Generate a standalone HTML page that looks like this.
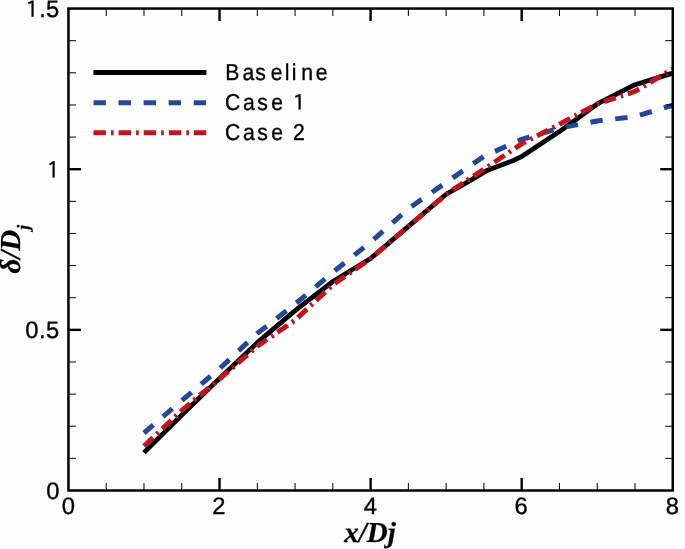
<!DOCTYPE html>
<html><head><meta charset="utf-8"><style>
html,body{margin:0;padding:0;background:#fdfdfd;}
body{width:685px;height:549px;overflow:hidden;}
svg{display:block;will-change:transform;}
text{font-family:"Liberation Sans",sans-serif;fill:#000;text-rendering:geometricPrecision;stroke:#000;stroke-width:0.35px;}
.ax{font-family:"Liberation Serif",serif;font-size:29px;font-weight:bold;font-style:italic;fill:#000;stroke-width:0.25px;}
</style></head><body>
<svg width="685" height="549" viewBox="0 0 685 549">
<rect x="0" y="0" width="685" height="549" fill="#fdfdfd"/>
<g fill="none" stroke-linejoin="round">
<path d="M143.99,452.59 L181.76,414.99 L219.53,378.37 L257.30,342.70 L295.07,310.57 L332.84,281.49 L370.61,258.52 L408.38,226.39 L446.15,194.26 L468.81,181.41 L487.70,170.16 L514.14,160.20 L522.45,156.03 L559.46,131.61 L597.23,103.98 L635.00,84.70 L672.77,73.13" stroke="#000" stroke-width="4.8"/>
<path d="M143.99,432.99 L181.76,400.54 L219.53,368.73 L257.30,333.38 L295.07,304.15 L332.84,272.34 L370.61,242.14 L408.38,208.72 L446.15,182.37 L483.92,156.35 L521.69,139.32 L559.46,128.07 L597.23,121.00 L635.00,116.51 L672.77,105.26" stroke="#24479c" stroke-width="5" stroke-dasharray="12.4 12.65"/>
<path d="M143.99,446.16 L181.76,410.50 L219.53,379.01 L257.30,346.24 L295.07,320.21 L332.84,284.87 L370.61,258.52 L408.38,226.39 L446.15,194.26 L483.92,169.20 L521.69,143.82 L559.46,124.22 L597.23,103.98 L635.00,91.45 L672.77,68.95" stroke="#c3141e" stroke-width="5" stroke-dasharray="12.4 5.1 2.6 5.0"/>
</g>
<rect x="68.45" y="8.549999999999955" width="604.32" height="481.95" fill="none" stroke="#000" stroke-width="2.5"/>
<line x1="106.22" y1="490.5" x2="106.22" y2="483.00" stroke="#000" stroke-width="1.0"/><line x1="106.22" y1="8.549999999999955" x2="106.22" y2="16.05" stroke="#000" stroke-width="1.0"/><line x1="143.99" y1="490.5" x2="143.99" y2="483.00" stroke="#000" stroke-width="1.0"/><line x1="143.99" y1="8.549999999999955" x2="143.99" y2="16.05" stroke="#000" stroke-width="1.0"/><line x1="181.76" y1="490.5" x2="181.76" y2="483.00" stroke="#000" stroke-width="1.0"/><line x1="181.76" y1="8.549999999999955" x2="181.76" y2="16.05" stroke="#000" stroke-width="1.0"/><line x1="219.53" y1="490.5" x2="219.53" y2="478.00" stroke="#000" stroke-width="2.4"/><line x1="219.53" y1="8.549999999999955" x2="219.53" y2="21.05" stroke="#000" stroke-width="2.4"/><line x1="257.30" y1="490.5" x2="257.30" y2="483.00" stroke="#000" stroke-width="1.0"/><line x1="257.30" y1="8.549999999999955" x2="257.30" y2="16.05" stroke="#000" stroke-width="1.0"/><line x1="295.07" y1="490.5" x2="295.07" y2="483.00" stroke="#000" stroke-width="1.0"/><line x1="295.07" y1="8.549999999999955" x2="295.07" y2="16.05" stroke="#000" stroke-width="1.0"/><line x1="332.84" y1="490.5" x2="332.84" y2="483.00" stroke="#000" stroke-width="1.0"/><line x1="332.84" y1="8.549999999999955" x2="332.84" y2="16.05" stroke="#000" stroke-width="1.0"/><line x1="370.61" y1="490.5" x2="370.61" y2="478.00" stroke="#000" stroke-width="2.4"/><line x1="370.61" y1="8.549999999999955" x2="370.61" y2="21.05" stroke="#000" stroke-width="2.4"/><line x1="408.38" y1="490.5" x2="408.38" y2="483.00" stroke="#000" stroke-width="1.0"/><line x1="408.38" y1="8.549999999999955" x2="408.38" y2="16.05" stroke="#000" stroke-width="1.0"/><line x1="446.15" y1="490.5" x2="446.15" y2="483.00" stroke="#000" stroke-width="1.0"/><line x1="446.15" y1="8.549999999999955" x2="446.15" y2="16.05" stroke="#000" stroke-width="1.0"/><line x1="483.92" y1="490.5" x2="483.92" y2="483.00" stroke="#000" stroke-width="1.0"/><line x1="483.92" y1="8.549999999999955" x2="483.92" y2="16.05" stroke="#000" stroke-width="1.0"/><line x1="521.69" y1="490.5" x2="521.69" y2="478.00" stroke="#000" stroke-width="2.4"/><line x1="521.69" y1="8.549999999999955" x2="521.69" y2="21.05" stroke="#000" stroke-width="2.4"/><line x1="559.46" y1="490.5" x2="559.46" y2="483.00" stroke="#000" stroke-width="1.0"/><line x1="559.46" y1="8.549999999999955" x2="559.46" y2="16.05" stroke="#000" stroke-width="1.0"/><line x1="597.23" y1="490.5" x2="597.23" y2="483.00" stroke="#000" stroke-width="1.0"/><line x1="597.23" y1="8.549999999999955" x2="597.23" y2="16.05" stroke="#000" stroke-width="1.0"/><line x1="635.00" y1="490.5" x2="635.00" y2="483.00" stroke="#000" stroke-width="1.0"/><line x1="635.00" y1="8.549999999999955" x2="635.00" y2="16.05" stroke="#000" stroke-width="1.0"/><line x1="68.45" y1="458.37" x2="75.95" y2="458.37" stroke="#000" stroke-width="1.0"/><line x1="672.7700000000001" y1="458.37" x2="665.27" y2="458.37" stroke="#000" stroke-width="1.0"/><line x1="68.45" y1="426.24" x2="75.95" y2="426.24" stroke="#000" stroke-width="1.0"/><line x1="672.7700000000001" y1="426.24" x2="665.27" y2="426.24" stroke="#000" stroke-width="1.0"/><line x1="68.45" y1="394.11" x2="75.95" y2="394.11" stroke="#000" stroke-width="1.0"/><line x1="672.7700000000001" y1="394.11" x2="665.27" y2="394.11" stroke="#000" stroke-width="1.0"/><line x1="68.45" y1="361.98" x2="75.95" y2="361.98" stroke="#000" stroke-width="1.0"/><line x1="672.7700000000001" y1="361.98" x2="665.27" y2="361.98" stroke="#000" stroke-width="1.0"/><line x1="68.45" y1="329.85" x2="80.95" y2="329.85" stroke="#000" stroke-width="2.4"/><line x1="672.7700000000001" y1="329.85" x2="660.27" y2="329.85" stroke="#000" stroke-width="2.4"/><line x1="68.45" y1="297.72" x2="75.95" y2="297.72" stroke="#000" stroke-width="1.0"/><line x1="672.7700000000001" y1="297.72" x2="665.27" y2="297.72" stroke="#000" stroke-width="1.0"/><line x1="68.45" y1="265.59" x2="75.95" y2="265.59" stroke="#000" stroke-width="1.0"/><line x1="672.7700000000001" y1="265.59" x2="665.27" y2="265.59" stroke="#000" stroke-width="1.0"/><line x1="68.45" y1="233.46" x2="75.95" y2="233.46" stroke="#000" stroke-width="1.0"/><line x1="672.7700000000001" y1="233.46" x2="665.27" y2="233.46" stroke="#000" stroke-width="1.0"/><line x1="68.45" y1="201.33" x2="75.95" y2="201.33" stroke="#000" stroke-width="1.0"/><line x1="672.7700000000001" y1="201.33" x2="665.27" y2="201.33" stroke="#000" stroke-width="1.0"/><line x1="68.45" y1="169.20" x2="80.95" y2="169.20" stroke="#000" stroke-width="2.4"/><line x1="672.7700000000001" y1="169.20" x2="660.27" y2="169.20" stroke="#000" stroke-width="2.4"/><line x1="68.45" y1="137.07" x2="75.95" y2="137.07" stroke="#000" stroke-width="1.0"/><line x1="672.7700000000001" y1="137.07" x2="665.27" y2="137.07" stroke="#000" stroke-width="1.0"/><line x1="68.45" y1="104.94" x2="75.95" y2="104.94" stroke="#000" stroke-width="1.0"/><line x1="672.7700000000001" y1="104.94" x2="665.27" y2="104.94" stroke="#000" stroke-width="1.0"/><line x1="68.45" y1="72.81" x2="75.95" y2="72.81" stroke="#000" stroke-width="1.0"/><line x1="672.7700000000001" y1="72.81" x2="665.27" y2="72.81" stroke="#000" stroke-width="1.0"/><line x1="68.45" y1="40.68" x2="75.95" y2="40.68" stroke="#000" stroke-width="1.0"/><line x1="672.7700000000001" y1="40.68" x2="665.27" y2="40.68" stroke="#000" stroke-width="1.0"/>
<text transform="translate(68.40,514.10) scale(1.0,1)" x="-6.62" y="0" font-size="23.8">0</text><text transform="translate(218.95,514.10) scale(1.0,1)" x="-6.62" y="0" font-size="23.8">2</text><text transform="translate(370.35,514.10) scale(1.0,1)" x="-6.54" y="0" font-size="23.8">4</text><text transform="translate(521.30,514.10) scale(1.0,1)" x="-6.70" y="0" font-size="23.8">6</text><text transform="translate(672.35,514.10) scale(1.0,1)" x="-6.62" y="0" font-size="23.8">8</text><path d="M31.45,0.60 L33.65,0.60 L33.65,16.80 L31.45,16.80 Z" fill="#000"/><line x1="32.77" y1="1.50" x2="28.20" y2="3.40" stroke="#000" stroke-width="2.0"/><text transform="translate(42.50,17.15) scale(1.0,1)" x="-3.31" y="0" font-size="23.8">.</text><text transform="translate(52.60,17.15) scale(1.0,1)" x="-6.59" y="0" font-size="23.8">5</text><path d="M52.50,161.10 L54.70,161.10 L54.70,177.60 L52.50,177.60 Z" fill="#000"/><line x1="53.82" y1="162.00" x2="49.50" y2="164.50" stroke="#000" stroke-width="2.0"/><text transform="translate(31.90,338.45) scale(1.0,1)" x="-6.62" y="0" font-size="23.8">0</text><text transform="translate(42.25,338.45) scale(1.0,1)" x="-3.31" y="0" font-size="23.8">.</text><text transform="translate(52.65,338.45) scale(1.0,1)" x="-6.59" y="0" font-size="23.8">5</text><text transform="translate(52.95,499.10) scale(1.0,1)" x="-6.62" y="0" font-size="23.8">0</text>
<line x1="93.4" y1="72.55" x2="206.4" y2="72.55" stroke="#000" stroke-width="4.9"/>
<line x1="93.5" y1="102.75" x2="206.4" y2="102.75" stroke="#24479c" stroke-width="5" stroke-dasharray="12.4 12.65"/>
<line x1="93.5" y1="132.8" x2="206.4" y2="132.8" stroke="#c3141e" stroke-width="5" stroke-dasharray="12.4 5.1 2.6 5.0"/>
<text transform="translate(232.50,80.10) scale(0.92,1)" x="-8.01" y="0" font-size="23.0">B</text><text transform="translate(248.75,80.10) scale(0.92,1)" x="-6.88" y="0" font-size="23.0">a</text><text transform="translate(260.35,80.10) scale(0.92,1)" x="-5.65" y="0" font-size="23.0">s</text><text transform="translate(276.60,80.10) scale(0.92,1)" x="-6.37" y="0" font-size="23.0">e</text><text transform="translate(287.05,80.10) scale(0.92,1)" x="-2.56" y="0" font-size="23.0">l</text><text transform="translate(294.05,80.10) scale(0.92,1)" x="-2.55" y="0" font-size="23.0">i</text><text transform="translate(307.15,80.10) scale(0.92,1)" x="-6.41" y="0" font-size="23.0">n</text><text transform="translate(321.50,80.10) scale(0.92,1)" x="-6.37" y="0" font-size="23.0">e</text><text transform="translate(232.70,110.20) scale(0.92,1)" x="-8.45" y="0" font-size="23.0">C</text><text transform="translate(249.30,110.20) scale(0.92,1)" x="-6.88" y="0" font-size="23.0">a</text><text transform="translate(262.40,110.20) scale(0.92,1)" x="-5.65" y="0" font-size="23.0">s</text><text transform="translate(277.20,110.20) scale(0.92,1)" x="-6.37" y="0" font-size="23.0">e</text><path d="M298.50,94.20 L300.70,94.20 L300.70,109.60 L298.50,109.60 Z" fill="#000"/><line x1="299.82" y1="95.10" x2="295.30" y2="96.90" stroke="#000" stroke-width="2.0"/><text transform="translate(232.80,140.30) scale(0.92,1)" x="-8.45" y="0" font-size="23.0">C</text><text transform="translate(249.30,140.30) scale(0.92,1)" x="-6.88" y="0" font-size="23.0">a</text><text transform="translate(262.40,140.30) scale(0.92,1)" x="-5.65" y="0" font-size="23.0">s</text><text transform="translate(277.20,140.30) scale(0.92,1)" x="-6.37" y="0" font-size="23.0">e</text><text transform="translate(298.85,140.30) scale(0.92,1)" x="-6.40" y="0" font-size="23.0">2</text>
<text x="344.3" y="542" class="ax">x/Dj</text>
<g transform="translate(20.0,273.6) rotate(-90)"><text x="0" y="0" class="ax">δ/D<tspan font-size="17.5" dy="8.9">j</tspan></text></g>
</svg>
</body></html>
